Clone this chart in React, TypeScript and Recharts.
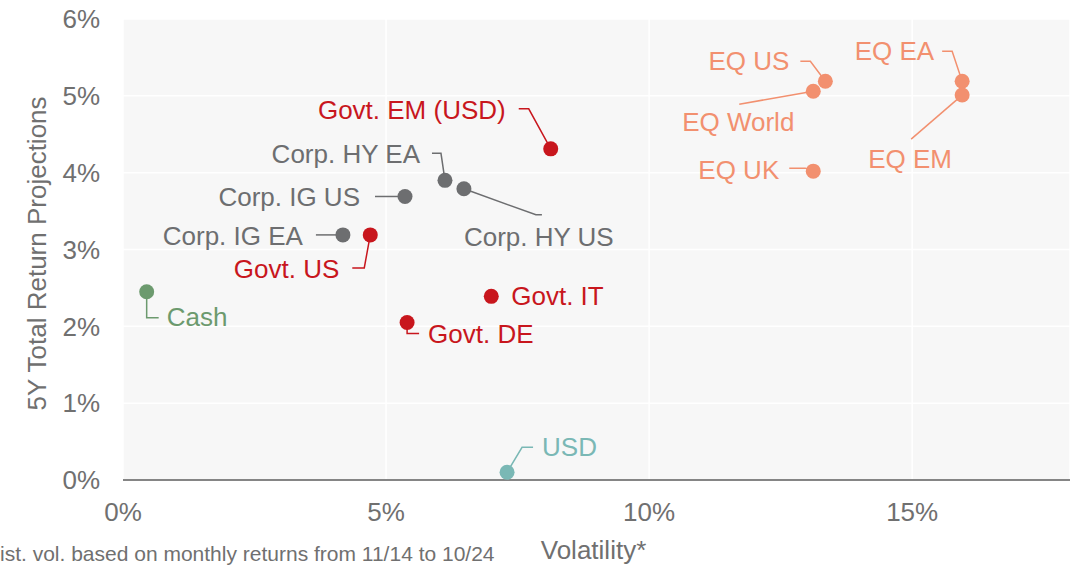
import React from 'react';
import { ScatterChart, Scatter, XAxis, YAxis, CartesianGrid } from 'recharts';

// ---- data (volatility %, 5Y total return projection %) ----
const govt = [
  { name: 'Govt. EM (USD)', vol: 8.13, ret: 4.31 },
  { name: 'Govt. US', vol: 4.7, ret: 3.19 },
  { name: 'Govt. IT', vol: 7.0, ret: 2.39 },
  { name: 'Govt. DE', vol: 5.4, ret: 2.05 },
];
const corp = [
  { name: 'Corp. HY EA', vol: 6.12, ret: 3.9 },
  { name: 'Corp. HY US', vol: 6.48, ret: 3.79 },
  { name: 'Corp. IG US', vol: 5.36, ret: 3.69 },
  { name: 'Corp. IG EA', vol: 4.18, ret: 3.19 },
];
const equity = [
  { name: 'EQ US', vol: 13.35, ret: 5.19 },
  { name: 'EQ World', vol: 13.12, ret: 5.06 },
  { name: 'EQ UK', vol: 13.12, ret: 4.02 },
  { name: 'EQ EA', vol: 15.95, ret: 5.19 },
  { name: 'EQ EM', vol: 15.95, ret: 5.01 },
];
const cash = [{ name: 'Cash', vol: 0.45, ret: 2.45 }];
const fx = [{ name: 'USD', vol: 7.3, ret: 0.1 }];

const xTicks = [0, 5, 10, 15];
const yTicks = [0, 1, 2, 3, 4, 5, 6];
const xTitle = 'Volatility*';
const yTitle = '5Y Total Return Projections';
const footnote = 'ist. vol. based on monthly returns from 11/14 to 10/24';

// ---- styling ----
const FONT = '"Liberation Sans", Arial, sans-serif';
const GREY_TEXT = '#707070';
const C_GOVT = '#C8161D';
const C_CORP = '#6D6E70';
const C_EQ = '#F2906F';
const C_CASH = '#6C9A6E';
const C_FX = '#7AB8B5';

type LabelCfg = {
  anchor: 'start' | 'middle' | 'end';
  dx: number;
  dy: number;
  leader: [number, number][];
};

// label placement relative to each dot (pixels)
const labelLayout: Record<string, LabelCfg> = {
  'Govt. EM (USD)': { anchor: 'end', dx: -45, dy: -39, leader: [[-32, -40], [-22, -40], [0, 0]] },
  'Corp. HY EA': { anchor: 'end', dx: -25, dy: -26, leader: [[-13, -27], [-4, -27], [0, 0]] },
  'Corp. HY US': { anchor: 'start', dx: 0, dy: 48, leader: [[0, 0], [72, 26], [78, 26]] },
  'Corp. IG US': { anchor: 'end', dx: -45, dy: 0, leader: [[-30, 0], [0, 0]] },
  'Corp. IG EA': { anchor: 'end', dx: -40, dy: 1, leader: [[-27, 0], [0, 0]] },
  'Govt. US': { anchor: 'end', dx: -31, dy: 34, leader: [[-18, 33], [-6, 33], [0, 0]] },
  Cash: { anchor: 'start', dx: 20, dy: 25, leader: [[0, 0], [0, 26], [12, 26]] },
  'Govt. DE': { anchor: 'start', dx: 21, dy: 11, leader: [[0, 0], [0, 11], [12, 11]] },
  'Govt. IT': { anchor: 'start', dx: 20, dy: 0, leader: [] },
  USD: { anchor: 'start', dx: 35, dy: -25, leader: [[0, 0], [15, -25], [26, -25]] },
  'EQ US': { anchor: 'end', dx: -36, dy: -20, leader: [[-25, -20], [-15, -20], [0, 0]] },
  'EQ World': { anchor: 'middle', dx: -75, dy: 31, leader: [[0, 0], [-74, 13]] },
  'EQ UK': { anchor: 'end', dx: -34, dy: -1, leader: [[-24, -3], [-8, -3], [0, 0]] },
  'EQ EA': { anchor: 'end', dx: -28, dy: -30, leader: [[-20, -30], [-10, -30], [0, 0]] },
  'EQ EM': { anchor: 'middle', dx: -52, dy: 64, leader: [[0, 0], [-51, 44]] },
};

const makeShape = (color: string) => (props: any) => {
  const { cx, cy, payload } = props;
  if (cx == null || cy == null) return <g />;
  const cfg = labelLayout[payload.name];
  const pts = cfg ? cfg.leader.map(([x, y]) => `${cx + x},${cy + y}`).join(' ') : '';
  return (
    <g>
      {cfg && cfg.leader.length > 1 && (
        <polyline points={pts} fill="none" stroke={color} strokeWidth={1.5} />
      )}
      <circle cx={cx} cy={cy} r={7.5} fill={color} />
      {cfg && (
        <text
          x={cx + cfg.dx}
          y={cy + cfg.dy}
          dy="0.35em"
          textAnchor={cfg.anchor}
          fill={color}
          fontSize={26}
          fontFamily={FONT}
        >
          {payload.name}
        </text>
      )}
    </g>
  );
};

const XTitle = (props: any) => {
  const vb = props.viewBox || { x: 123, y: 480, width: 947, height: 85 };
  return (
    <g>
      <text
        x={vb.x + vb.width / 2 - 3}
        y={vb.y + 79}
        textAnchor="middle"
        fill={GREY_TEXT}
        fontSize={26}
        fontFamily={FONT}
      >
        {xTitle}
      </text>
      <text x={vb.x - 123} y={vb.y + 81} fill={GREY_TEXT} fontSize={21} fontFamily={FONT}>
        {footnote}
      </text>
    </g>
  );
};

const YTitle = (props: any) => {
  const vb = props.viewBox || { x: 0, y: 19, width: 123, height: 461 };
  const cx = vb.x + 37;
  const cy = vb.y + vb.height / 2 + 4;
  return (
    <text
      x={cx}
      y={cy}
      dy="0.35em"
      transform={`rotate(-90, ${cx}, ${cy})`}
      textAnchor="middle"
      fill={GREY_TEXT}
      fontSize={26}
      fontFamily={FONT}
    >
      {yTitle}
    </text>
  );
};

const pct = (v: number) => `${v}%`;

export default function App() {
  return (
    <div style={{ position: 'absolute', left: 0, top: 0, width: 1076, height: 565, background: '#fff' }}>
      <ScatterChart width={1076} height={565} margin={{ top: 19, right: 6, bottom: 0, left: 0 }}>
        <CartesianGrid fill="#F7F7F7" stroke="#FFFFFF" strokeWidth={1.5} />
        <XAxis
          type="number"
          dataKey="vol"
          domain={[0, 18]}
          ticks={xTicks}
          tickFormatter={pct}
          height={85}
          tickLine={false}
          tickSize={0}
          tickMargin={23}
          axisLine={{ stroke: '#858585', strokeWidth: 2 }}
          tick={{ fill: GREY_TEXT, fontSize: 26, fontFamily: FONT }}
          label={<XTitle />}
        />
        <YAxis
          type="number"
          dataKey="ret"
          domain={[0, 6]}
          ticks={yTicks}
          tickFormatter={pct}
          width={123}
          tickLine={false}
          tickSize={0}
          tickMargin={23}
          axisLine={false}
          tick={{ fill: GREY_TEXT, fontSize: 26, fontFamily: FONT }}
          label={<YTitle />}
        />
        <Scatter data={corp} fill={C_CORP} shape={makeShape(C_CORP)} isAnimationActive={false} />
        <Scatter data={govt} fill={C_GOVT} shape={makeShape(C_GOVT)} isAnimationActive={false} />
        <Scatter data={equity} fill={C_EQ} shape={makeShape(C_EQ)} isAnimationActive={false} />
        <Scatter data={cash} fill={C_CASH} shape={makeShape(C_CASH)} isAnimationActive={false} />
        <Scatter data={fx} fill={C_FX} shape={makeShape(C_FX)} isAnimationActive={false} />
      </ScatterChart>
    </div>
  );
}
